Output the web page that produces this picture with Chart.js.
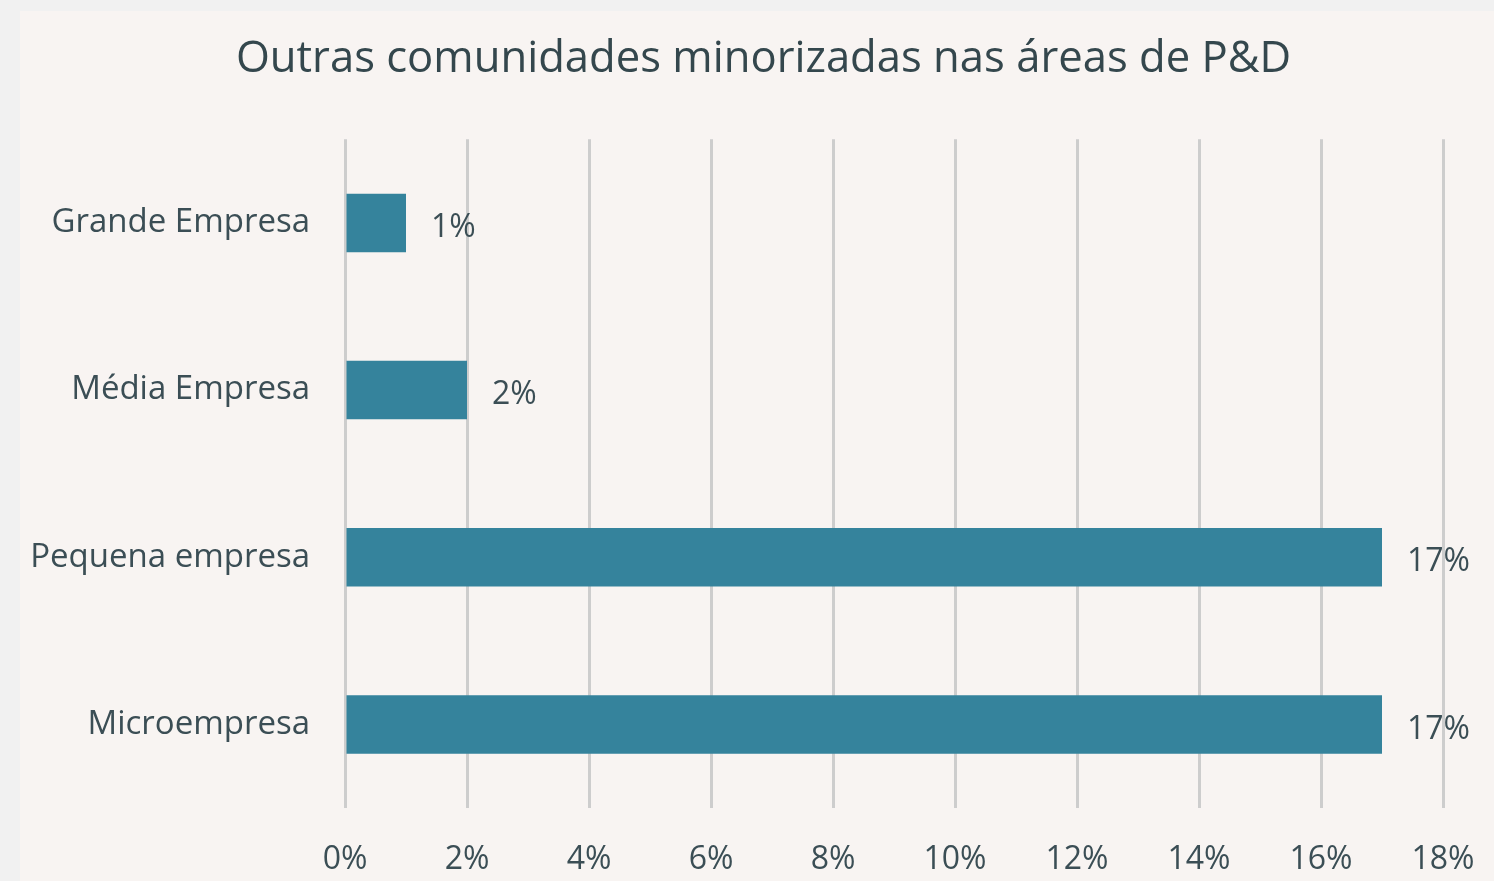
<!DOCTYPE html>
<html lang="pt">
<head>
    <meta charset="UTF-8">
    <title>Outras comunidades minorizadas nas áreas de P&amp;D</title>
    <style>
        body {
            margin: 0;
            background-color: #f1f1f1;
            overflow: hidden;
        }
        .card {
            position: absolute;
            left: 20px;
            top: 11px;
            width: 1474px;
            height: 870px;
            background-color: #f8f4f2;
        }
    </style>
</head>
<body>
    <div class="card">
        <canvas id="chart"></canvas>
    </div>

    <script src="https://cdn.jsdelivr.net/npm/chart.js"></script>
    <script>
        // Data
        const categories = ['Grande Empresa', 'Média Empresa', 'Pequena empresa', 'Microempresa'];
        const values = [1, 2, 17, 17];
        const xTicksMax = 18;
        const xTickStep = 2;

        const textColor = '#3b4e55';
        const fontFamily = '"Open Sans", Lato, sans-serif';

        // Draw the value label right of each bar
        const valueLabels = {
            id: 'valueLabels',
            afterDatasetsDraw(chart) {
                const ctx = chart.ctx;
                const meta = chart.getDatasetMeta(0);
                ctx.save();
                ctx.font = '500 32px ' + fontFamily;
                ctx.fillStyle = textColor;
                ctx.textAlign = 'left';
                ctx.textBaseline = 'middle';
                meta.data.forEach((bar, i) => {
                    ctx.fillText(values[i] + '%', bar.x + 25, bar.y + 5);
                });
                ctx.restore();
            }
        };

        // The original title sits a bit right of centre
        const titleShift = {
            id: 'titleShift',
            afterLayout(chart) {
                if (chart.titleBlock) chart.titleBlock.left += 64;
            }
        };

        new Chart(document.getElementById('chart'), {
            type: 'bar',
            data: {
                labels: categories,
                datasets: [{
                    data: values,
                    backgroundColor: '#35839c',
                    barPercentage: 0.35,
                    categoryPercentage: 1
                }]
            },
            options: {
                indexAxis: 'y',
                responsive: true,
                maintainAspectRatio: false,
                animation: false,
                layout: {
                    padding: { top: 22, right: 51, left: 0, bottom: 0 }
                },
                plugins: {
                    legend: { display: false },
                    tooltip: { enabled: false },
                    title: {
                        display: true,
                        text: 'Outras comunidades minorizadas nas áreas de P&D',
                        color: '#34474d',
                        font: { family: fontFamily, size: 43.6, weight: 'normal' },
                        padding: { top: 0, bottom: 54 }
                    }
                },
                scales: {
                    x: {
                        min: 0,
                        max: xTicksMax,
                        ticks: {
                            stepSize: xTickStep,
                            color: textColor,
                            font: { family: fontFamily, size: 32, weight: 500 },
                            padding: 33,
                            callback: v => v + '%'
                        },
                        grid: {
                            color: '#cdcdcd',
                            lineWidth: 3,
                            drawTicks: false
                        },
                        border: { display: false },
                        afterFit: scale => {
                            scale.height = 73;
                            scale.paddingLeft = 0;
                            scale.paddingRight = 0;
                        }
                    },
                    y: {
                        ticks: {
                            color: textColor,
                            font: { family: fontFamily, size: 33 },
                            padding: 27
                        },
                        grid: { display: false },
                        border: { display: false },
                        afterFit: scale => { scale.width = 325; }
                    }
                }
            },
            plugins: [valueLabels, titleShift]
        });
    </script>
</body>
</html>
